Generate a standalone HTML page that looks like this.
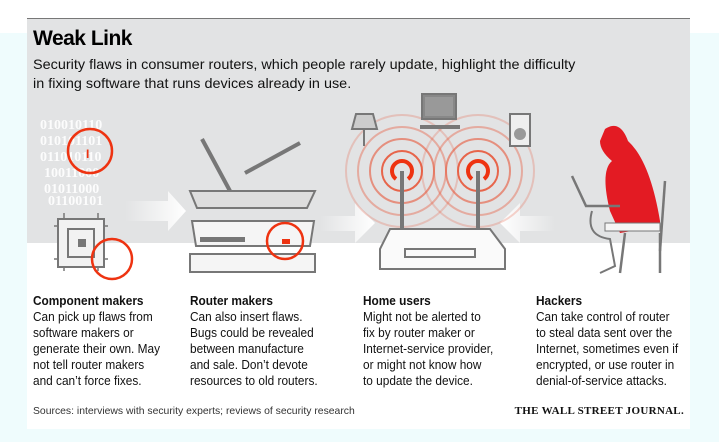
<!DOCTYPE html>
<html><head><meta charset="utf-8"><style>
body{margin:0;width:719px;height:442px;background:#fff;position:relative;overflow:hidden;font-family:"Liberation Sans",sans-serif}
.cy{position:absolute;left:0;top:33px;width:719px;height:409px;background:#effcfd}
.card{position:absolute;left:27px;top:18px;width:663px;height:410px;background:#fff;border-top:1px solid #777}
.gray{position:absolute;left:0;top:0;width:663px;height:224px;background:#e2e3e4}
.t{position:absolute;color:#111;white-space:nowrap}
h1{position:absolute;left:6px;top:8px;margin:0;font-size:21px;font-weight:bold;letter-spacing:-0.5px}
.sub{left:6px;top:36px;font-size:14px;line-height:19px;transform:scaleX(1.03);transform-origin:left}
.col{top:274px;font-size:12.6px;line-height:16px;transform:scaleX(0.94);transform-origin:left}
.col b{display:block}
.src{left:6px;top:386px;font-size:10.5px;color:#333;transform:scaleX(0.99);transform-origin:left}
.wsj{right:6px;top:386px;font-family:"Liberation Serif",serif;font-size:11px;font-weight:bold;letter-spacing:0.3px}
svg{position:absolute;left:0;top:0}
</style></head><body>
<div class="cy"></div>
<div class="card">
<div class="gray"></div>
<svg width="663" height="270" viewBox="27 18 663 270">
<defs><linearGradient id="ar" x1="0" x2="1"><stop offset="0" stop-color="#fff" stop-opacity="0"/><stop offset="1" stop-color="#fff"/></linearGradient>
<linearGradient id="al" x1="1" x2="0"><stop offset="0" stop-color="#fff" stop-opacity="0"/><stop offset="1" stop-color="#fff"/></linearGradient></defs>
<g font-family="Liberation Serif,serif" font-weight="bold" font-size="14" fill="#fff" opacity="0.9">
<text x="40" y="128">010010110</text><text x="40" y="144">010101101</text><text x="40" y="160">011010110</text><text x="44" y="176">10011000</text><text x="44" y="192">01011000</text><text x="48" y="204">01100101</text></g>
<circle cx="90" cy="150" r="22" fill="none" stroke="#e31" stroke-width="2.5"/><text x="86" y="157" fill="#e31" font-weight="bold" font-size="12">I</text>
<g stroke="#777" stroke-width="1.5"><line x1="64" y1="212" x2="64" y2="270"/><line x1="98" y1="212" x2="98" y2="270"/><line x1="54" y1="225" x2="108" y2="225"/><line x1="54" y1="258" x2="108" y2="258"/></g>
<rect x="58" y="218" width="46" height="48" fill="#f2f2f2" stroke="#777" stroke-width="2"/><rect x="68" y="228" width="26" height="28" fill="none" stroke="#777" stroke-width="2"/><rect x="78" y="238" width="8" height="8" fill="#777"/>
<circle cx="112" cy="258" r="20" fill="none" stroke="#e31" stroke-width="2.5"/>
<polygon points="125,200 168,200 168,190 186,210 168,230 168,220 125,220" fill="url(#ar)"/>
<polygon points="320,215 355,215 355,202 375,222 355,242 355,230 320,230" fill="url(#ar)"/>
<polygon points="555,215 520,215 520,202 500,222 520,242 520,230 555,230" fill="url(#al)"/>
<line x1="202" y1="138" x2="230" y2="190" stroke="#777" stroke-width="4"/><line x1="245" y1="172" x2="300" y2="142" stroke="#777" stroke-width="4"/>
<polygon points="190,190 315,190 307,207 197,207" fill="#ddd" stroke="#777" stroke-width="2"/>
<polygon points="192,220 314,220 310,245 196,245" fill="#f5f5f5" stroke="#777" stroke-width="2"/><rect x="200" y="236" width="45" height="5" fill="#777"/>
<rect x="190" y="253" width="125" height="18" fill="#f5f5f5" stroke="#777" stroke-width="2"/>
<circle cx="285" cy="240" r="18" fill="none" stroke="#e31" stroke-width="2.5"/><rect x="282" y="238" width="8" height="5" fill="#e31"/>
<g fill="none" stroke="#e8573a" stroke-width="2">
<circle cx="402" cy="170" r="20" opacity=".9"/><circle cx="402" cy="170" r="32" opacity=".6"/><circle cx="402" cy="170" r="44" opacity=".4"/><circle cx="402" cy="170" r="56" opacity=".25"/>
<circle cx="478" cy="170" r="20" opacity=".9"/><circle cx="478" cy="170" r="32" opacity=".6"/><circle cx="478" cy="170" r="44" opacity=".4"/><circle cx="478" cy="170" r="56" opacity=".25"/></g>
<g fill="none" stroke="#e31" stroke-width="4"><path d="M396 178 A10 10 0 1 1 408 178"/><path d="M472 178 A10 10 0 1 1 484 178"/></g>
<line x1="402" y1="170" x2="402" y2="230" stroke="#777" stroke-width="4"/><line x1="478" y1="170" x2="478" y2="230" stroke="#777" stroke-width="4"/>
<polygon points="390,228 490,228 505,248 505,268 380,268 380,248" fill="#fafafa" stroke="#777" stroke-width="2"/><rect x="405" y="248" width="70" height="8" fill="none" stroke="#777" stroke-width="2"/>
<rect x="422" y="93" width="34" height="25" fill="#888" stroke="#777" stroke-width="2"/><rect x="425" y="96" width="28" height="19" fill="#999"/><rect x="420" y="124" width="40" height="4" fill="#777"/>
<polygon points="356,113 373,113 377,128 352,128" fill="#ccc" stroke="#777" stroke-width="2"/><line x1="364" y1="128" x2="364" y2="145" stroke="#777" stroke-width="2"/>
<rect x="510" y="113" width="20" height="32" fill="#eee" stroke="#777" stroke-width="2"/><circle cx="520" cy="133" r="6" fill="#999"/>
<path d="M605 128 Q620 118 628 140 Q650 160 660 220 L660 225 L620 232 L610 210 Q600 170 612 160 Q600 150 600 140 Z" fill="#e31b23"/>
<rect x="605" y="222" width="55" height="8" fill="#f5f5f5" stroke="#777"/>
<polyline points="572,175 586,205 620,205" fill="none" stroke="#777" stroke-width="2.5"/>
<path d="M592 210 Q585 235 610 238 L615 265 L600 272" fill="none" stroke="#777" stroke-width="2"/>
<line x1="665" y1="180" x2="660" y2="250" stroke="#777" stroke-width="2.5"/><line x1="625" y1="232" x2="620" y2="272" stroke="#777" stroke-width="2.5"/><line x1="660" y1="232" x2="660" y2="272" stroke="#777" stroke-width="2.5"/>
</svg>
<h1>Weak Link</h1>
<div class="t sub">Security flaws in consumer routers, which people rarely update, highlight the difficulty<br>in fixing software that runs devices already in use.</div>
<div class="t col" style="left:6px"><b>Component makers</b>Can pick up flaws from<br>software makers or<br>generate their own. May<br>not tell router makers<br>and can’t force fixes.</div>
<div class="t col" style="left:163px"><b>Router makers</b>Can also insert flaws.<br>Bugs could be revealed<br>between manufacture<br>and sale. Don’t devote<br>resources to old routers.</div>
<div class="t col" style="left:336px"><b>Home users</b>Might not be alerted to<br>fix by router maker or<br>Internet-service provider,<br>or might not know how<br>to update the device.</div>
<div class="t col" style="left:509px"><b>Hackers</b>Can take control of router<br>to steal data sent over the<br>Internet, sometimes even if<br>encrypted, or use router in<br>denial-of-service attacks.</div>
<div class="t src">Sources: interviews with security experts; reviews of security research</div>
<div class="t wsj">THE WALL STREET JOURNAL.</div>
</div>
</body></html>
